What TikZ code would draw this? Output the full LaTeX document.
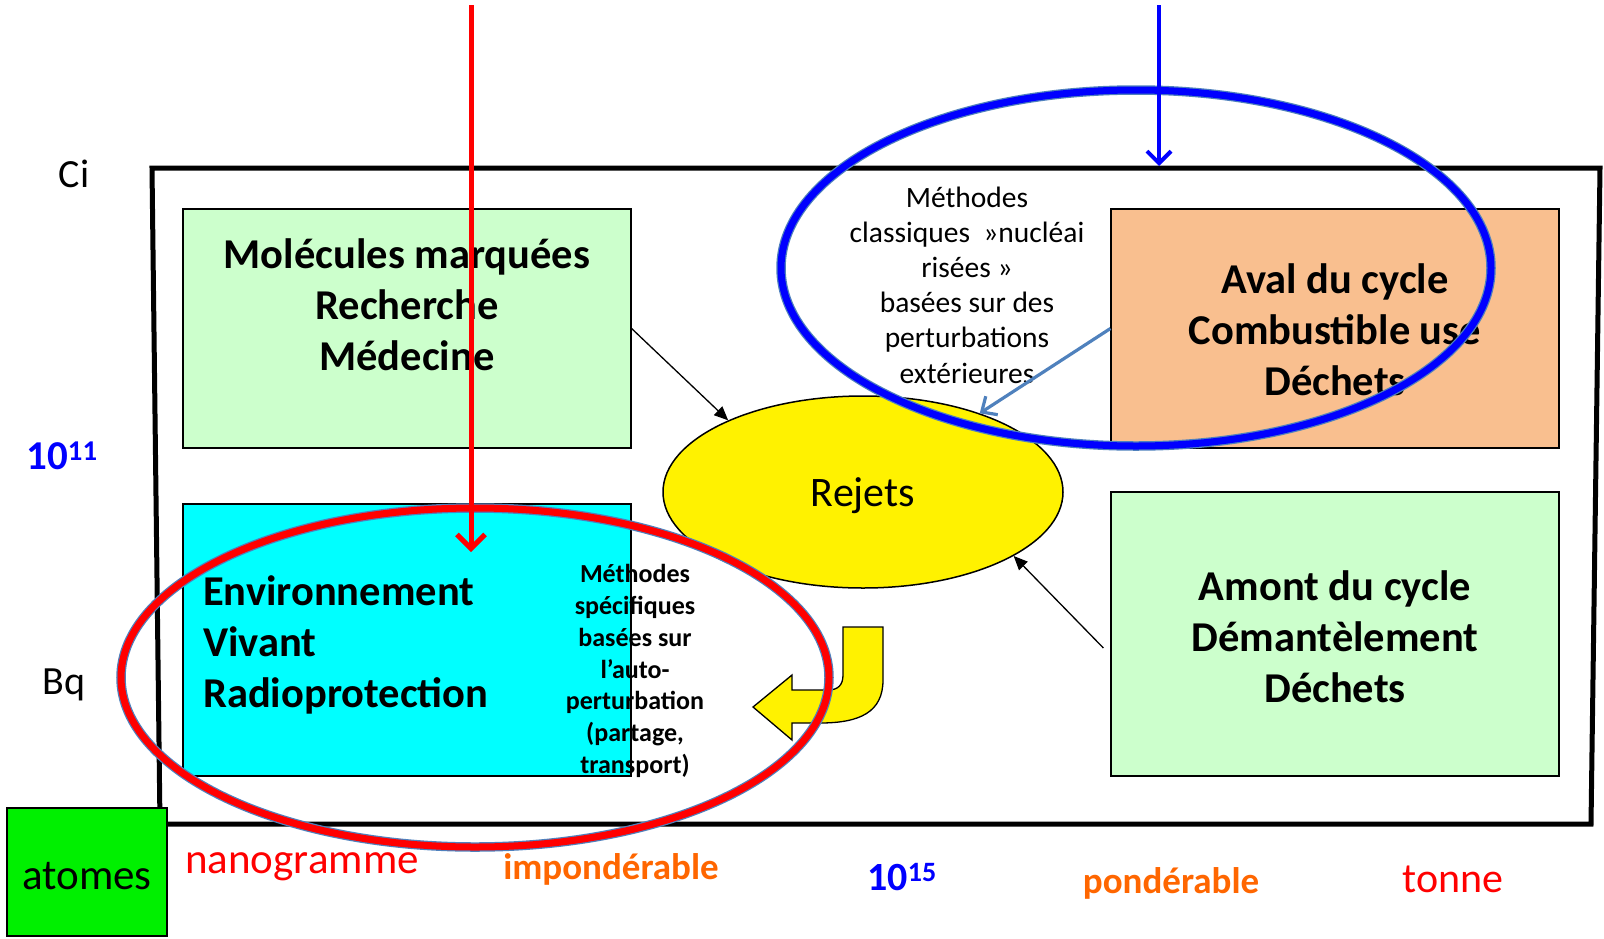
\documentclass[tikz,border=0pt]{standalone}
\usepackage{fontspec}
\setmainfont{Carlito}
\usetikzlibrary{shapes.geometric,arrows.meta,calc}
\definecolor{lgreen}{HTML}{CCFFCC}
\definecolor{peach}{HTML}{F9BF8F}
\definecolor{aqua}{HTML}{00FFFF}
\definecolor{brgreen}{HTML}{00F000}
\definecolor{orng}{HTML}{FF6600}
\definecolor{sblue}{HTML}{4F81BD}
\definecolor{pblue}{HTML}{0000FF}
\definecolor{pred}{HTML}{FF0000}
\newcommand{\fs}[2]{\fontsize{#1}{#2}\selectfont}
\tikzset{
  boxnode/.style={draw=black, line width=1.2pt, inner sep=0pt},
  boxtext/.style={font=\fs{42.5}{51}\bfseries, align=center, inner sep=0pt},
  blk/.style={draw=black, line width=1.3pt, -{Triangle[length=14pt,width=12pt]}},
  bigring/.style={ellipse, inner sep=0pt, fill=none},
  lab/.style={inner sep=0pt},
}
\begin{document}
\begin{tikzpicture}[x=1pt,y=-1pt]
\useasboundingbox (0,0) rectangle (1604,938);

% frame
\draw[line width=5pt, line join=miter] (152,168) -- (1600,168) -- (1591,824) -- (160,824) -- cycle;

% boxes
\node[boxnode, fill=lgreen, minimum width=448pt, minimum height=239pt] (mol) at (407,328.5) {};
\node[boxnode, fill=aqua, minimum width=448pt, minimum height=272pt] (env) at (407,640) {};
\node[boxnode, fill=peach, minimum width=448pt, minimum height=239pt] (aval) at (1335,328.5) {};
\node[boxnode, fill=lgreen, minimum width=448pt, minimum height=284pt] (amont) at (1335,634) {};

\node[boxtext] (moltxt) at (407,305) {Molécules marquées\\Recherche\\Médecine};
\node[boxtext, align=left, anchor=west] (envtxt) at (203,645) {Environnement\\Vivant\\Radioprotection};
\node[boxtext] (avaltxt) at (1335,330) {Aval du cycle\\Combustible use\\Déchets};
\node[boxtext] (amonttxt) at (1335,637) {Amont du cycle\\Démantèlement\\Déchets};

% Rejets
\node[ellipse, draw=black, line width=1.5pt, fill=yellow, minimum width=400pt, minimum height=192pt, inner sep=0pt] (rej) at (863,492) {};
\node[lab, font=\fs{42}{42}] (rejtxt) at (863,496) {Rejets};

% method texts
\node[lab, align=center, font=\fs{29.5}{35.2}] (classtxt) at (967,285) {Méthodes\\classiques\ \ »nucléai\\risées »\\basées sur des\\perturbations\\extérieures};
\node[lab, align=center, font=\fs{26}{31.8}\bfseries] (spectxt) at (635,671) {Méthodes\\spécifiques\\basées sur\\l’auto-\\perturbation\\(partage,\\transport)};

% black arrows
\draw[blk] (mol.east) -- (rej.152);
\draw[blk] ($(amont.west)+(-7,14)$) -- (rej.-23);
% steel blue arrow
\draw[draw=sblue, line width=3.2pt, -{Straight Barb[length=12pt,width=22pt]}] (aval.west) -- (rej.34);

% yellow bent arrow
\draw[fill=yellow, draw=black, line width=1.3pt, line join=miter]
  (843,627) -- (883,627) -- (883,680) .. controls (883,712) and (860,723) .. (820,723)
  -- (792,723) -- (792,740) -- (753,707) -- (792,675) -- (792,690) -- (828,690)
  .. controls (838,690) and (843,685) .. (843,675) -- cycle;

% atomes box
\node[draw=black, line width=1.5pt, fill=brgreen, minimum width=160pt, minimum height=128pt, inner sep=0pt] (atomes) at (87,872) {};
\node[lab, font=\fs{43}{43}] (atomestxt) at (87,876) {atomes};

% big rings
\node[bigring, draw=sblue, line width=9.5pt, minimum width=710pt, minimum height=356pt] (blueE) at (1136,268) {};
\node[bigring, draw=pblue, line width=7pt, minimum width=710pt, minimum height=356pt] (blueE2) at (1136,268) {};
\node[bigring, draw=sblue, line width=9.5pt, minimum width=708pt, minimum height=339pt] (redE) at (475,677.5) {};
\node[bigring, draw=pred, line width=7pt, minimum width=708pt, minimum height=339pt] (redE2) at (475,677.5) {};

% vertical arrows
\coordinate (rtop) at (471,5);
\coordinate (rtip) at (471,552);
\draw[draw=pred, line width=5pt, -{Straight Barb[length=14pt,width=28pt]}] (rtop) -- (rtip);
\coordinate (btop) at (1159,5);
\coordinate (btip) at (1159,166);
\draw[draw=pblue, line width=4pt, -{Straight Barb[length=12pt,width=24pt]}] (btop) -- (btip);

% axis labels
\node[lab, font=\fs{40}{40}] (ci) at (74,174) {Ci};
\node[lab, font=\fs{41}{41}\bfseries, text=pblue] (e11) at (62,456) {10\textsuperscript{11}};
\node[lab, font=\fs{40}{40}] (bq) at (64,685) {Bq};
\node[lab, font=\fs{43}{43}, text=pred] (nano) at (302,867) {nanogramme};
\node[lab, font=\fs{37}{37}\bfseries, text=orng] (impond) at (611,869) {impondérable};
\node[lab, font=\fs{40}{40}\bfseries, text=pblue] (e15) at (902,877) {10\textsuperscript{15}};
\node[lab, font=\fs{37}{37}\bfseries, text=orng] (pond) at (1171,883) {pondérable};
\node[lab, font=\fs{42}{42}, text=pred] (tonne) at (1453,879) {tonne};
\end{tikzpicture}
\end{document}
